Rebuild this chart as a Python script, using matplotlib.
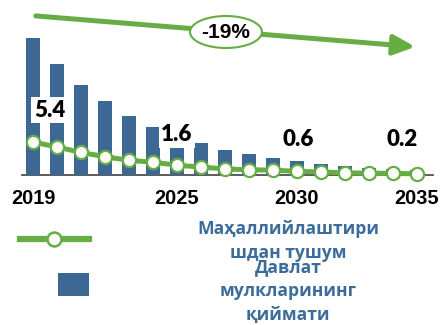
import matplotlib
matplotlib.use('Agg')
import matplotlib.pyplot as plt
from matplotlib.patches import Ellipse, Rectangle, FancyArrowPatch
from matplotlib.lines import Line2D

# данные
years = list(range(2019, 2036))
bar_values = [100, 81, 66, 54, 43, 35, 28.5, 23, 18.5, 15, 12.4, 10.2, 8, 6.6, 5.2, 4.2, 3.4]
line_values = [5.4, 4.6, 3.7, 3.0, 2.4, 2.1, 1.6, 1.3, 1.0, 0.85, 0.8, 0.6, 0.5, 0.35, 0.3, 0.25, 0.2]
tick_years = [2019, 2025, 2030, 2035]
labels = {2019: '5.4', 2025: '1.6', 2030: '0.6', 2035: '0.2'}
label_offsets = {2019: (12, 23), 2025: (0, 22), 2030: (1, 23), 2035: (-11, 25)}
change_text = '-19%'
legend_line = 'Маҳаллийлаштири\nшдан тушум'
legend_bar = 'Давлат\nмулкларининг\nқиймати'

green = '#67AD45'
blue = '#3E6894'
text_blue = '#3B6C9B'

W, H = 441, 325
fig = plt.figure(figsize=(W / 100, H / 100), dpi=100)

# оси: нижняя линия на y=175px, от x=22 до x=433
ax = fig.add_axes([22 / W, (H - 175) / H, 411 / W, 175 / H])
ax.bar(years, bar_values, width=0.55, color=blue, zorder=2)
ax.set_xlim(2018.54, 2035.67)
ax.set_ylim(0, 175 / 1.37)

ax2 = ax.twinx()
ax2.plot(years, line_values, color=green, lw=3.6, marker='o', ms=9.5,
         mfc='white', mec=green, mew=1.6, zorder=3, clip_on=False)
ax2.set_ylim(0, 175 / 6.1)

for y, txt in labels.items():
    v = line_values[years.index(y)]
    ax2.annotate(txt, (y, v), xytext=label_offsets[y], textcoords='offset points',
                 ha='center', va='center', fontsize=16, fontweight='heavy',
                 family=['Lato', 'DejaVu Sans'], color='black', zorder=5,
                 bbox=dict(boxstyle='square,pad=0.12', fc='white', ec='none'))

for a in (ax, ax2):
    for s in ('top', 'right', 'left'):
        a.spines[s].set_visible(False)
    a.set_yticks([])
ax2.spines['bottom'].set_visible(False)
ax.spines['bottom'].set_color('#404040')
ax.spines['bottom'].set_linewidth(1.2)
ax.spines['bottom'].set_zorder(1)
ax.set_xticks(tick_years)
ax.set_xticklabels([str(t) for t in tick_years], fontsize=14.4, fontweight='bold',
                   family='Liberation Sans')
ax.tick_params(axis='x', length=0, pad=10)
ax.patch.set_visible(False)

# стрелка тренда
arrow = FancyArrowPatch((33, H - 15.7), (418, H - 47), transform=None,
                        arrowstyle='-|>,head_length=1.3,head_width=0.6',
                        mutation_scale=10, color=green, lw=3.6)
fig.patches.append(arrow)
ell = Ellipse((226 / W, (H - 32) / H), 72 / W, 32 / H, transform=fig.transFigure,
              fc='white', ec=green, lw=1.5, zorder=5)
fig.patches.append(ell)
fig.text(226 / W, (H - 32) / H, change_text, ha='center', va='center', fontsize=15,
         fontweight='bold', family='Liberation Sans', zorder=6)

# легенда
fig.lines.append(Line2D([20, 89], [H - 239, H - 239], transform=None, color=green, lw=4.5))
fig.lines.append(Line2D([54], [H - 239], transform=None, marker='o', ms=10,
                        mfc='white', mec=green, mew=1.8))
fig.patches.append(Rectangle((58, H - 296), 31, 23, transform=None, fc=blue, ec='none'))
fig.text(288 / W, (H - 241) / H, legend_line, ha='center', va='center', fontsize=12.6,
         fontweight='bold', color=text_blue, family='Open Sans', linespacing=1.4)
fig.text(288 / W, (H - 291) / H, legend_bar, ha='center', va='center', fontsize=12.6,
         fontweight='bold', color=text_blue, family='Open Sans', linespacing=1.4)

fig.savefig('out.png', dpi=100)
